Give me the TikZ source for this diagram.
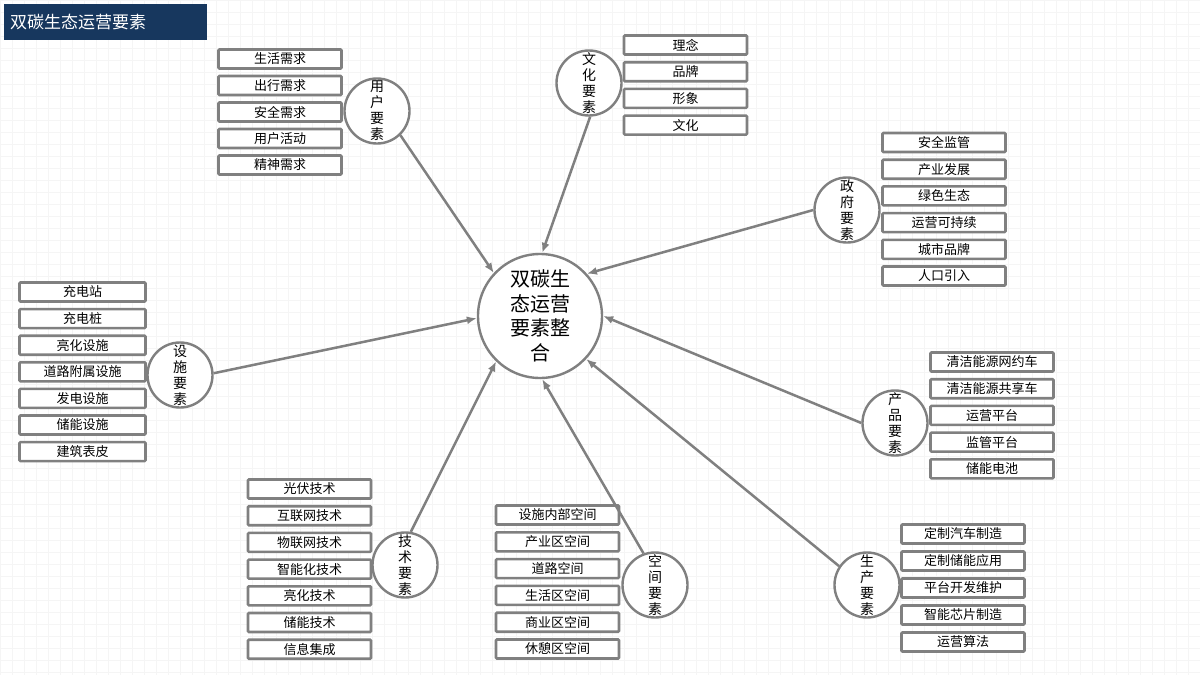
\documentclass[tikz,border=0pt]{standalone}
\usepackage{fontspec}
\setmainfont{Noto Sans CJK SC}
\usetikzlibrary{arrows.meta}
\definecolor{linegray}{RGB}{128,128,128}
\definecolor{navy}{RGB}{23,55,94}
\definecolor{gridc}{RGB}{245,245,245}
\begin{document}
\begin{tikzpicture}[x=1pt,y=-1pt,
 item/.style={draw=linegray, line width=2.6pt, fill=white, minimum width=123pt, minimum height=19pt, inner sep=0pt, font=\fontsize{13}{15}\selectfont, rounded corners=1pt},
 elem/.style={circle, draw=linegray, line width=2.4pt, fill=white, minimum size=65pt, inner sep=0pt, align=center, font=\fontsize{14}{16}\selectfont},
 hub/.style={circle, draw=linegray, line width=2.4pt, fill=white, minimum size=124pt, inner sep=0pt, align=center, font=\fontsize{20}{24.5}\selectfont},
 link/.style={draw=linegray, line width=2.5pt, -{Latex[length=10pt,width=8pt]}},
 titlebox/.style={fill=navy, text=white, anchor=north west, minimum width=203pt, minimum height=36pt, inner sep=0pt, text width=191pt, font=\fontsize{17}{20}\selectfont}
]
\useasboundingbox (0,0) rectangle (1200,675);
\fill[white] (0,0) rectangle (1200,675);
\foreach \gx in {0,12,...,1200} \draw[gridc, line width=0.5pt] (\gx,0) -- (\gx,675);
\foreach \gy in {0,12,...,672} \draw[gridc, line width=0.5pt] (0,\gy) -- (1200,\gy);

\node[titlebox] (title) at (4,4) {双碳生态运营要素};

% boxes
\foreach \t [count=\i] in {生活需求,出行需求,安全需求,用户活动,精神需求}
  \node[item] (u\i) at (280,{59+26.5*(\i-1)}) {\t};
\foreach \t [count=\i] in {理念,品牌,形象,文化}
  \node[item] (c\i) at (685.5,{45+26.7*(\i-1)}) {\t};
\foreach \t [count=\i] in {安全监管,产业发展,绿色生态,运营可持续,城市品牌,人口引入}
  \node[item] (g\i) at (944,{142.5+26.7*(\i-1)}) {\t};
\foreach \t [count=\i] in {充电站,充电桩,亮化设施,道路附属设施,发电设施,储能设施,建筑表皮}
  \node[item, minimum width=126pt] (f\i) at (82.5,{292+26.6*(\i-1)}) {\t};
\foreach \t [count=\i] in {清洁能源网约车,清洁能源共享车,运营平台,监管平台,储能电池}
  \node[item] (p\i) at (992,{362+26.7*(\i-1)}) {\t};
\foreach \t [count=\i] in {定制汽车制造,定制储能应用,平台开发维护,智能芯片制造,运营算法}
  \node[item] (m\i) at (963,{534+27*(\i-1)}) {\t};
\foreach \t [count=\i] in {光伏技术,互联网技术,物联网技术,智能化技术,亮化技术,储能技术,信息集成}
  \node[item] (t\i) at (309.5,{489+26.7*(\i-1)}) {\t};
\foreach \t [count=\i] in {设施内部空间,产业区空间,道路空间,生活区空间,商业区空间,休憩区空间}
  \node[item] (s\i) at (557.5,{515+26.8*(\i-1)}) {\t};

% circles
\node[hub] (hub) at (540,316) {双碳生\\态运营\\要素整\\合};
\node[elem] (user) at (377,111) {用\\户\\要\\素};
\node[elem] (cult) at (589,83) {文\\化\\要\\素};
\node[elem] (gov) at (847,210) {政\\府\\要\\素};
\node[elem] (fac) at (180,375) {设\\施\\要\\素};
\node[elem] (prod) at (895,423) {产\\品\\要\\素};
\node[elem] (make) at (867,585) {生\\产\\要\\素};
\node[elem] (tech) at (405,565) {技\\术\\要\\素};
\node[elem] (space) at (655,585) {空\\间\\要\\素};

% connectors
\draw[link] (user.-46) -- (hub.137);
\draw[link] (cult.-88) -- (hub.88);
\draw[link] (gov.180) -- (hub.42);
\draw[link] (prod.180) -- (hub.0);
\draw[link] (make.146) -- (hub.-43);
\draw[link] (space.110) -- (hub.-88);
\draw[link] (tech.80) -- (hub.-134);
\draw[link] (fac.3) -- (hub.182);
\end{tikzpicture}
\end{document}
